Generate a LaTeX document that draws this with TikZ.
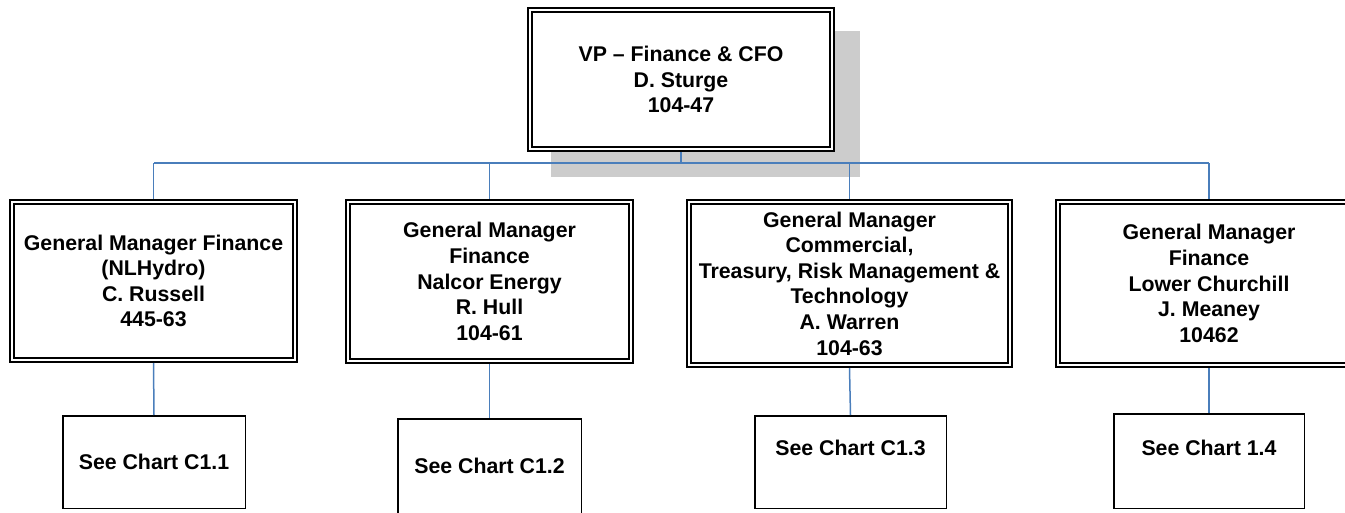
\documentclass[tikz,border=0pt]{standalone}
\usepackage{fontspec}
\setmainfont{Liberation Sans}
\definecolor{connblue}{RGB}{74,126,187}
\definecolor{shadowgray}{RGB}{204,204,204}
\begin{document}
\begin{tikzpicture}[x=1pt,y=-1pt,
  txt/.style={font=\fontsize{21.3}{25.6}\selectfont\bfseries, align=center, inner sep=0pt},
  dbox/.style={draw=black, line width=1.6pt, double=white, double distance=2.6pt,
    fill=white, outer sep=2.9pt, inner sep=0pt, txt,
    minimum width=#1},
  sbox/.style={draw=black, line width=1.5pt, fill=white, outer sep=0.75pt, inner sep=0pt, txt},
  conn/.style={draw=connblue, line width=1.5pt}]
\useasboundingbox (0,0) rectangle (1345,513);
% shadow of the top box
\fill[shadowgray] (551,31) rectangle (860,177);
% top box
\node[dbox=302.2pt, minimum height=139.2pt] (top) at (681,79.5)
  {VP -- Finance \& CFO\\D. Sturge\\104-47};
% second level
\node[dbox=283.2pt, minimum height=158.2pt] (b1) at (153.5,281)
  {General Manager Finance\\(NLHydro)\\C. Russell\\445-63};
\node[dbox=283.2pt, minimum height=159.2pt] (b2) at (489.5,281.5)
  {General Manager\\Finance\\Nalcor Energy\\R. Hull\\104-61};
\node[dbox=321.2pt, minimum height=163.2pt] (b3) at (849.5,283.5)
  {General Manager\\Commercial,\\Treasury, Risk Management \&\\Technology\\A. Warren\\104-63};
\node[dbox=302.2pt, minimum height=163.2pt] (b4) at (1209,283.5)
  {General Manager\\Finance\\Lower Churchill\\J. Meaney\\10462};
% third level
\node[sbox, minimum width=182.5pt, minimum height=92.5pt] (c1) at (154,462) {See Chart C1.1};
\node[sbox, minimum width=183.5pt, minimum height=94.5pt] (c2) at (489.5,466) {See Chart C1.2};
\node[sbox, minimum width=191.5pt, minimum height=92.5pt] (c3) at (850.5,462) {};
\node[txt] (c3t) at (850.5,448) {See Chart C1.3};
\node[sbox, minimum width=190.5pt, minimum height=94.5pt] (c4) at (1209,461) {};
\node[txt] (c4t) at (1209,448) {See Chart 1.4};
% connectors
\coordinate (busl) at (154,163);
\coordinate (busr) at (1209,163);
\draw[conn] (busl) -- (busr);
\draw[conn] (top.south) -- (top.south |- busl);
\draw[conn] (b1.north) -- (b1.north |- busl);
\draw[conn] (b2.north) -- (b2.north |- busl);
\draw[conn] (b3.north) -- (b3.north |- busl);
\draw[conn] (b4.north) -- (b4.north |- busl);
\draw[conn] (b1.south) -- (c1.north);
\draw[conn] (b2.south) -- (c2.north);
\draw[conn] (b3.south) -- (c3.north);
\draw[conn] (b4.south) -- (c4.north);
\end{tikzpicture}
\end{document}
